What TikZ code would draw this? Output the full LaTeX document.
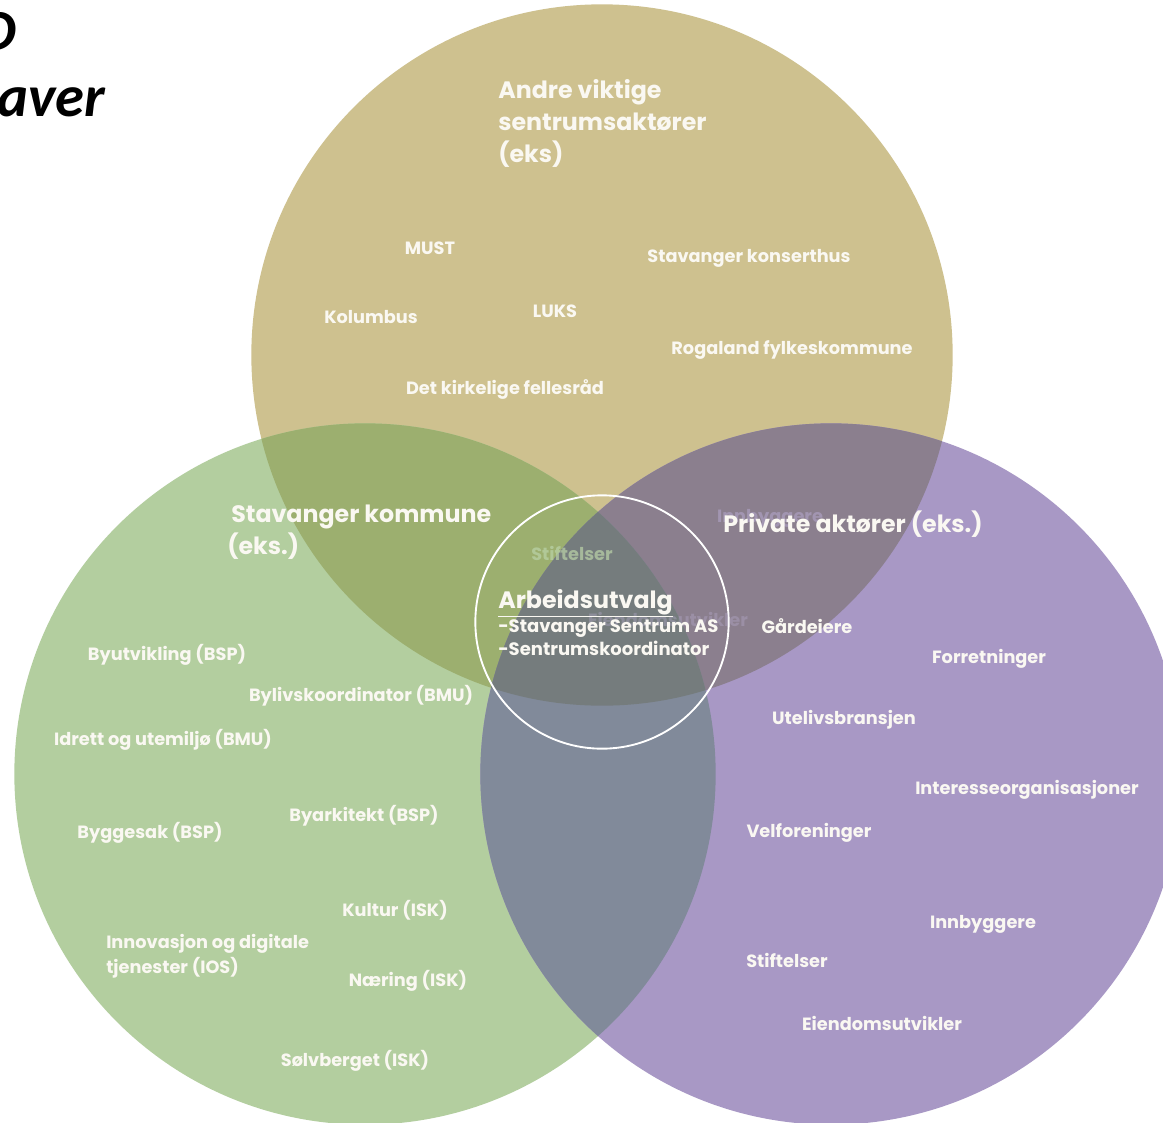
\documentclass[tikz,border=0pt]{standalone}
\usepackage{fontspec}
\setmainfont{Poppins}
\newfontfamily\calib{Carlito}
\definecolor{ctan}{HTML}{CEC18F}
\definecolor{cgreen}{HTML}{B3CE9F}
\definecolor{cpurple}{HTML}{A898C5}
\definecolor{ctg}{HTML}{9CAF6F}
\definecolor{ctp}{HTML}{8B7F8E}
\definecolor{cgp}{HTML}{818A9A}
\definecolor{ctgp}{HTML}{757C7D}
\definecolor{txt}{HTML}{FAF8F2}
\begin{document}
\begin{tikzpicture}[x=0.75pt,y=-0.75pt,
  lbl/.style={text=txt,font=\bfseries\fontsize{13.3}{16}\selectfont,inner sep=0pt},
  head/.style={text=txt,font=\bfseries\fontsize{17.8}{24}\selectfont,inner sep=0pt,align=left},
  ghost/.style={font=\bfseries\fontsize{13.3}{16}\selectfont,inner sep=0pt}]
\useasboundingbox (0,0) rectangle (1163,1122);
\fill[white] (0,0) rectangle (1163,1122);
\coordinate (T) at (602,355);
\coordinate (G) at (365,774);
\coordinate (P) at (831,774);
\def\R{263pt}
\fill[ctan] (T) circle[radius=\R];
\fill[cgreen] (G) circle[radius=\R];
\fill[cpurple] (P) circle[radius=\R];
\begin{scope}\clip (T) circle[radius=\R]; \fill[ctg] (G) circle[radius=\R];\end{scope}
\begin{scope}\clip (T) circle[radius=\R]; \fill[ctp] (P) circle[radius=\R];\end{scope}
\begin{scope}\clip (G) circle[radius=\R]; \fill[cgp] (P) circle[radius=\R];\end{scope}
\begin{scope}\clip (T) circle[radius=\R]; \clip (G) circle[radius=\R]; \fill[ctgp] (P) circle[radius=\R];\end{scope}
\coordinate (C) at (602,622);
\draw[white,line width=1.4pt] (C) circle[radius=95pt];

% cut-off title
\node[anchor=base east,inner sep=0pt,font=\calib\bfseries\itshape\fontsize{44}{50}\selectfont] (t1) at (17,50) {D};
\node[anchor=base west,inner sep=0pt,font=\calib\bfseries\itshape\fontsize{44}{50}\selectfont] (t2) at (-3,116) {aver};

% faint ghost texts
\node[ghost,text=cgreen!90!white,opacity=0.7] (g1) at (572,553) {Stiftelser};
\node[ghost,text=cpurple!85!white,opacity=0.55] (g2) at (770,518) {Innbyggere};
\node[ghost,text=cpurple!80!white,opacity=0.35] (g3) at (668,619) {Eiendomsutvikler};

% top circle
\node[head,anchor=north west] (h1) at (498,79) {Andre viktige\\sentrumsaktører\\(eks)};
\node[lbl] (a1) at (430,248) {MUST};
\node[lbl] (a2) at (749,258) {Stavanger konserthus};
\node[lbl] (a3) at (371,317) {Kolumbus};
\node[lbl] (a4) at (555,311) {LUKS};
\node[lbl] (a5) at (792,350) {Rogaland fylkeskommune};
\node[lbl] (a6) at (505,389) {Det kirkelige fellesråd};

% left circle
\node[head,anchor=north west] (h2) at (227,505) {\hspace*{3pt}Stavanger kommune\\(eks.)};
\node[lbl] (b1) at (167,655) {Byutvikling (BSP)};
\node[lbl] (b2) at (361,696) {Bylivskoordinator (BMU)};
\node[lbl] (b3) at (163,740) {Idrett og utemiljø (BMU)};
\node[lbl] (b4) at (364,816) {Byarkitekt (BSP)};
\node[lbl] (b5) at (150,833) {Byggesak (BSP)};
\node[lbl] (b6) at (395,910) {Kultur (ISK)};
\node[lbl,anchor=north west,align=left,font=\bfseries\fontsize{13.3}{18.7}\selectfont] (b7) at (106,934) {Innovasjon og digitale\\tjenester (IOS)};
\node[lbl] (b8) at (408,981) {Næring (ISK)};
\node[lbl] (b9) at (355,1061) {Sølvberget (ISK)};

% right circle
\node[head] (h3) at (853,524) {Private aktører (eks.)};
\node[lbl] (c1) at (807,626) {Gårdeiere};
\node[lbl] (c2) at (989,659) {Forretninger};
\node[lbl] (c3) at (844,720) {Utelivsbransjen};
\node[lbl] (c4) at (1027,790) {Interesseorganisasjoner};
\node[lbl] (c5) at (809,833) {Velforeninger};
\node[lbl] (c6) at (983,924) {Innbyggere};
\node[lbl] (c7) at (787,960) {Stiftelser};
\node[lbl] (c8) at (882,1023) {Eiendomsutvikler};

% center
\node[head,anchor=base west] (m0) at (498,608) {\underline{Arbeidsutvalg}};
\node[lbl,anchor=base west,font=\bfseries\fontsize{13.5}{17}\selectfont] (m1) at (498,632) {-Stavanger Sentrum AS};
\node[lbl,anchor=base west,font=\bfseries\fontsize{13.5}{17}\selectfont] (m2) at (498,655) {-Sentrumskoordinator};
\end{tikzpicture}
\end{document}
